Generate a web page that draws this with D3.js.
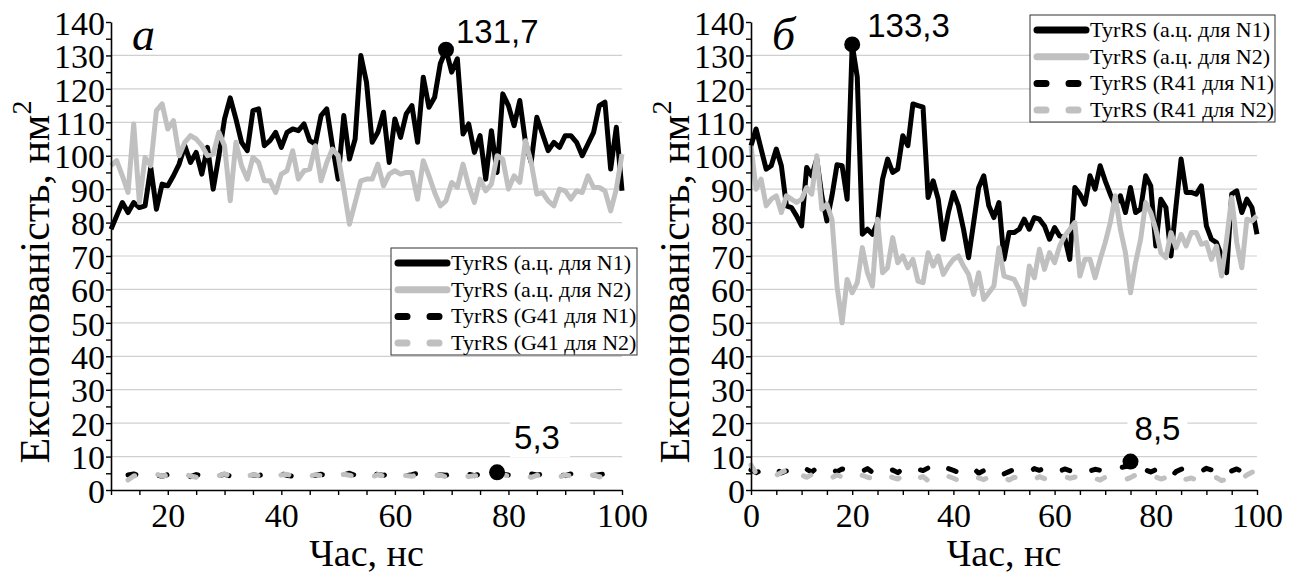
<!DOCTYPE html>
<html>
<head>
<meta charset="utf-8">
<script src="https://cdn.jsdelivr.net/npm/d3@7"></script>
<style>
  body { margin: 0; background: #fff; }
</style>
</head>
<body>
<div id="chart"></div>
<script>
// ---- data ----
// panel а: solid series sampled every 1 ns from 10 to 100
const timeA = d3.range(10, 101);
const aWildN1 = [
  78, 82, 86, 83, 86, 84.5, 85, 96.5, 84, 91.5,
  91, 94, 97.5, 103, 98, 101, 94.5, 102.5, 90, 100,
  111, 117.3, 111, 104, 101.5, 113.5, 114, 103, 104.5, 107,
  102.5, 107, 108, 107.5, 109.5, 104.5, 103.5, 112, 114, 103,
  93, 112, 99, 105, 130, 122, 104, 107, 113, 98,
  111, 105.5, 112.5, 115, 104, 123.5, 114.5, 117.5, 127.5, 131.7,
  125, 129, 106.5, 109.5, 101, 106, 93, 107.5, 95, 118.5,
  115, 109, 116.5, 104, 98, 111.5, 106.5, 101.5, 104, 102.5,
  106, 106, 104, 100, 103.5, 107, 115, 116, 96, 108.5,
  89.5
];
const aWildN2 = [
  97, 98.5, 94, 89, 109.5, 86, 99.5, 97, 113.5, 115.5,
  108, 110.5, 100, 104, 106, 105, 103, 100, 100.5, 107,
  103, 86.5, 104, 97, 93, 99.5, 98, 92.5, 92.5, 89,
  94.5, 95.5, 101.5, 93, 95.5, 96, 103, 92.5, 98, 102,
  100, 90, 79.5, 86, 92.5, 93, 93, 97.5, 91, 94.5,
  95.5, 94.5, 95, 95, 87, 98.5, 94, 89, 85, 86.5,
  92, 90.5, 97.5, 91, 86, 93, 89.5, 91.5, 100, 99,
  90, 94, 92, 104.5, 98, 88.5, 89, 86.5, 85, 90,
  89.5, 87, 89.5, 89, 94, 90.5, 90.5, 89.5, 83.5, 90,
  100.5
];
// panel а: dashed series start at 13 ns
const timeAdash = d3.range(13, 101);
const aMutN1 = [
  4.5, 4.8, 4.2, 4.6, 4.3, 4.5, 4.1, 4.6, 4.3, 4.8,
  4.4, 4.0, 4.6, 4.2, 3.9, 4.5, 4.3, 4.7, 4.2, 4.4,
  4.6, 4.1, 4.5, 4.3, 4.8, 4.5, 4.2, 4.9, 4.4, 4.1,
  4.6, 4.3, 3.9, 4.4, 4.7, 4.3, 4.5, 4.8, 4.6, 5.0,
  4.4, 4.7, 4.3, 5.1, 4.6, 4.4, 4.9, 4.5, 4.8, 4.3,
  4.6, 5.0, 4.4, 4.7, 4.2, 4.6, 4.4, 4.9, 4.5, 4.1,
  4.7, 4.3, 4.8, 4.4, 4.6, 5.3, 4.7, 4.5, 4.9, 4.6,
  4.3, 4.8, 4.5, 4.7, 4.4, 4.9, 4.6, 4.3, 4.8, 4.5,
  4.7, 4.9, 4.4, 4.6, 4.8, 4.5, 4.7, 4.4
];
const aMutN2 = [
  3.0, 4.2, 4.6, 4.0, 4.4, 4.8, 4.1, 4.5, 3.9, 4.3,
  4.7, 4.2, 3.8, 4.4, 4.6, 4.0, 4.3, 4.8, 4.2, 3.9,
  4.5, 4.1, 4.6, 4.3, 3.8, 4.4, 4.0, 4.5, 4.7, 4.2,
  3.9, 4.4, 4.1, 4.6, 4.3, 4.0, 4.5, 4.2, 4.7, 4.4,
  4.0, 4.5, 4.3, 3.9, 4.6, 4.2, 4.4, 4.0, 4.5, 4.3,
  4.1, 4.6, 4.4, 4.0, 4.3, 4.5, 3.9, 4.4, 4.2, 4.6,
  4.0, 4.3, 4.1, 4.5, 3.9, 4.4, 4.6, 4.2, 4.0, 4.5,
  4.3, 3.8, 4.4, 4.1, 4.6, 4.2, 3.9, 4.5, 4.3, 4.0,
  4.4, 4.1, 4.5, 3.9, 4.3, 4.6, 4.2, 4.4
];

// panel б: all series sampled every 1 ns from 0 to 100
const timeB = d3.range(0, 101);
const bWildN1 = [
  103, 108, 102, 96, 97, 102, 97, 85, 84.5, 82,
  79, 96.5, 94, 99, 88, 80.5, 88, 97.3, 97, 87,
  133.3, 123.5, 76.5, 78, 76.5, 80, 93, 99, 95, 96,
  106, 103, 115.5, 115, 114.5, 87.5, 92.5, 87, 75, 83,
  89, 85, 78, 69.5, 80, 90.5, 94, 85, 81.5, 86,
  69, 77, 77, 78, 81, 78, 81.5, 81, 79, 75,
  78.5, 76, 75.5, 69, 90.5, 88.5, 85.5, 94, 90, 97,
  92.5, 88.5, 85, 88, 83, 90.5, 83, 84, 94, 91,
  73, 87, 84.5, 70, 85, 99, 89, 89, 88.5, 91,
  79, 75, 74, 70, 65, 88.5, 89.5, 83, 87, 84.5,
  76.5
];
const bWildN2 = [
  103, 90, 93, 85, 87, 88, 83, 88, 87, 86,
  87, 90.5, 88.5, 100, 84, 85.5, 81, 61, 50, 63,
  59, 62, 72.5, 65, 61, 81, 65, 66.5, 75.5, 68,
  70, 66.5, 69, 62.5, 62, 71, 67, 70, 64.5, 67,
  69, 70, 67, 64.5, 58.5, 65, 57, 59, 61, 72.5,
  64, 63.5, 63, 60, 55.5, 67, 63.5, 72, 66, 71,
  68, 73, 76, 78, 80, 64, 69, 69, 63.5, 69,
  74, 80, 88, 78, 71, 59, 68, 75, 86, 83,
  78, 71, 69.5, 77, 72.5, 76.5, 73, 77, 77, 73.5,
  74, 69, 73, 64, 75, 87.5, 74, 66.5, 81, 80.5,
  82
];
const bMutN1 = [
  6.0, 5.2, 5.8, 4.9, 5.5, 6.3, 5.1, 5.7, 6.4, 5.6,
  5.0, 6.2, 5.4, 6.6, 5.8, 5.2, 6.0, 5.5, 6.3, 5.7,
  5.1, 6.1, 5.6, 6.4, 5.3, 5.9, 6.5, 5.4, 6.0, 5.2,
  6.3, 5.7, 5.1, 6.2, 5.8, 6.6, 5.5, 6.0, 5.3, 6.4,
  5.9, 5.2, 6.1, 5.6, 6.5, 5.0, 5.8, 6.3, 5.4, 6.0,
  4.8, 5.5, 6.2, 5.7, 6.0, 5.3, 6.4, 5.9, 6.6, 5.5,
  6.1, 5.6, 6.3, 5.8, 5.2, 6.0, 6.5, 5.7, 6.2, 5.9,
  6.4, 5.8, 6.1, 6.7, 7.0, 8.5, 6.2, 5.6, 6.0, 5.4,
  6.1, 5.8, 4.6, 3.9, 5.5, 6.2, 6.7, 5.9, 6.3, 5.6,
  6.5, 6.0, 5.4, 6.1, 4.8, 5.7, 6.3, 5.5, 4.2, 6.0,
  6.6
];
const bMutN2 = [
  7.5, 5.0, 4.6, 5.2, 4.8, 4.4, 5.3, 5.9, 7.0, 6.2,
  4.5, 3.8, 4.6, 4.0, 3.6, 4.3, 3.7, 4.5, 3.9, 3.4,
  4.2, 3.6, 4.4, 3.8, 3.5, 4.3, 3.9, 4.6, 3.7, 3.3,
  4.1, 5.0, 4.3, 3.5, 4.0, 2.8, 3.4, 3.9, 3.2, 4.1,
  3.5, 2.9, 3.8, 3.3, 4.0, 3.6, 3.1, 3.9, 3.4, 4.2,
  3.7, 3.0, 3.8, 3.5, 4.3, 3.6, 3.2, 4.0, 3.4, 3.9,
  3.3, 3.8, 4.1, 3.5, 3.9, 3.2, 3.6, 4.2, 3.4, 3.0,
  3.8, 3.5, 4.1, 3.4, 3.1, 3.7, 4.5, 5.0, 4.2, 3.6,
  3.9, 3.3, 3.7, 2.6, 3.4, 3.8, 3.2, 3.6, 3.0, 3.5,
  3.9, 3.3, 3.7, 2.8, 3.2, 3.6, 4.0, 3.3, 4.5, 5.3,
  6.0
];

const legendA = ["TyrRS (а.ц. для N1)", "TyrRS (а.ц. для N2)", "TyrRS (G41 для N1)", "TyrRS (G41 для N2)"];
const legendB = ["TyrRS (а.ц. для N1)", "TyrRS (а.ц. для N2)", "TyrRS (R41 для N1)", "TyrRS (R41 для N2)"];
const yTickValues = d3.range(0, 141, 10);
const xTickLabels = [0, 20, 40, 60, 80, 100];

// peaks marked on the chart
const peaksA = [{ x: 69, y: 131.7, label: "131,7" }, { x: 78, y: 5.3, label: "5,3" }];
const peaksB = [{ x: 20, y: 133.3, label: "133,3" }, { x: 75, y: 8.5, label: "8,5" }];

// ---- drawing ----
const W = 1300, H = 577;
const BLACK = "#000", GREY = "#c0c0c0";
const SERIF = "'Liberation Serif', 'Times New Roman', serif";
const SANS = "'Liberation Sans', Arial, sans-serif";

const svg = d3.select("#chart").append("svg")
  .attr("width", W)
  .attr("height", H)
  .attr("font-family", SERIF);

function drawPanel(p) {
  const x = d3.scaleLinear().domain(p.xDomain).range([p.left, p.right]);
  const y = d3.scaleLinear().domain([0, 140]).range([490, 22]);
  const g = svg.append("g");

  // gridlines
  g.append("g").selectAll("line")
    .data(yTickValues.filter(v => v > 0 && v < 140))
    .join("line")
    .attr("x1", p.left).attr("x2", p.right)
    .attr("y1", d => y(d)).attr("y2", d => y(d))
    .attr("stroke", "#d0d0d0").attr("stroke-width", 1.2);

  // series
  const line = d3.line().x(d => x(d[0])).y(d => y(d[1]));
  p.series.forEach(s => {
    g.append("path")
      .datum(s.t.map((t, i) => [t, s.v[i]]))
      .attr("fill", "none")
      .attr("stroke", s.color)
      .attr("stroke-width", 5)
      .attr("stroke-linejoin", "round")
      .attr("stroke-linecap", s.dash ? "round" : "butt")
      .attr("stroke-dasharray", s.dash ? "8,24" : null)
      .attr("d", line);
  });

  // axes
  const yAxis = g.append("g")
    .attr("transform", `translate(${p.left},0)`)
    .call(d3.axisLeft(y).tickValues(d3.range(0, 141, 5)).tickSize(5).tickSizeOuter(0)
      .tickFormat(d => d % 10 === 0 ? d : ""));
  yAxis.selectAll("text").attr("font-size", 34).attr("dx", 2).attr("dy", "0.36em");

  const xAxis = g.append("g")
    .attr("transform", "translate(0,490)")
    .call(d3.axisBottom(x).tickValues(d3.range(p.xDomain[0], 101, 5)).tickSize(5).tickSizeOuter(0)
      .tickFormat(d => xTickLabels.includes(d) ? d : ""));
  xAxis.selectAll("text").attr("font-size", 34).attr("dy", "0.85em");

  [yAxis, xAxis].forEach(a => {
    a.attr("font-family", SERIF);
    a.selectAll("text").attr("font-family", SERIF).attr("fill", BLACK);
    a.select(".domain").attr("stroke-width", 1.6);
    a.selectAll(".tick line").attr("stroke-width", 1.4);
  });

  // axis titles
  g.append("text")
    .attr("x", (p.left + p.right) / 2)
    .attr("y", 566)
    .attr("text-anchor", "middle")
    .attr("font-family", SERIF)
    .attr("font-size", 38)
    .text("Час, нс");

  const yt = g.append("text")
    .attr("transform", `translate(${p.left - 62},282) rotate(-90)`)
    .attr("text-anchor", "middle")
    .attr("font-family", SERIF)
    .attr("font-size", 42);
  yt.append("tspan").text("Експонованість, нм");
  yt.append("tspan").attr("font-size", 28).attr("dy", -18).text("2");

  // panel letter
  g.append("text")
    .attr("x", p.left + 21)
    .attr("y", 50)
    .attr("font-family", SERIF)
    .attr("font-size", 46)
    .attr("font-style", "italic")
    .text(p.letter);

  // peaks
  p.peaks.forEach((pk, i) => {
    const cx = x(pk.x), cy = y(pk.y);
    const o = p.peakOffsets[i];
    const anchor = o.anchor || "start";
    if (o.bg) {
      const bx = anchor === "middle" ? cx + o.dx - 30 : cx + o.dx - 4;
      g.append("rect")
        .attr("x", bx).attr("y", cy + o.dy - 28)
        .attr("width", 60).attr("height", 36)
        .attr("fill", "#fff");
    }
    g.append("text")
      .attr("x", cx + o.dx)
      .attr("y", cy + o.dy)
      .attr("text-anchor", anchor)
      .attr("font-family", SANS)
      .attr("font-size", 33)
      .text(pk.label);
    g.append("circle")
      .attr("cx", cx).attr("cy", cy).attr("r", 8)
      .attr("fill", BLACK);
  });

  // legend
  const lg = g.append("g").attr("transform", `translate(${p.legend.x},${p.legend.y})`);
  lg.append("rect")
    .attr("width", p.legend.w).attr("height", 107)
    .attr("fill", "#fff").attr("stroke", "#333").attr("stroke-width", 1);
  p.series.forEach((s, i) => {
    const ly = 15 + i * 26.7;
    lg.append("line")
      .attr("x1", 7).attr("x2", 56)
      .attr("y1", ly).attr("y2", ly)
      .attr("stroke", s.color)
      .attr("stroke-width", 7)
      .attr("stroke-linecap", "round")
      .attr("stroke-dasharray", s.dash ? "9,23" : null);
    lg.append("text")
      .attr("x", 60)
      .attr("y", ly + 7)
      .attr("font-family", SERIF)
      .attr("font-size", 22)
      .text(p.legendLabels[i]);
  });
}

drawPanel({
  left: 111, right: 622, xDomain: [10, 100], letter: "а",
  series: [
    { t: timeA, v: aWildN1, color: BLACK },
    { t: timeA, v: aWildN2, color: GREY },
    { t: timeAdash, v: aMutN1, color: BLACK, dash: true },
    { t: timeAdash, v: aMutN2, color: GREY, dash: true }
  ],
  peaks: peaksA,
  peakOffsets: [{ dx: 10, dy: -7 }, { dx: 17, dy: -23, bg: true }],
  legend: { x: 391, y: 248, w: 246 },
  legendLabels: legendA
});

drawPanel({
  left: 751, right: 1257, xDomain: [0, 100], letter: "б",
  series: [
    { t: timeB, v: bWildN1, color: BLACK },
    { t: timeB, v: bWildN2, color: GREY },
    { t: timeB, v: bMutN1, color: BLACK, dash: true },
    { t: timeB, v: bMutN2, color: GREY, dash: true }
  ],
  peaks: peaksB,
  peakOffsets: [{ dx: 15, dy: -7 }, { dx: 27, dy: -22, anchor: "middle", bg: true }],
  legend: { x: 1030, y: 15, w: 245 },
  legendLabels: legendB
});
</script>
</body>
</html>
